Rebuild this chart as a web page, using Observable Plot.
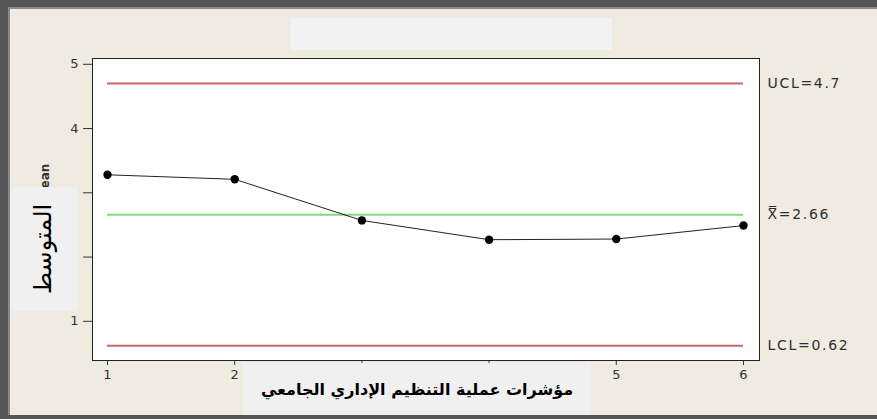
<!DOCTYPE html>
<html>
<head>
<meta charset="utf-8">
<script src="https://cdn.jsdelivr.net/npm/d3@7"></script>
<script src="https://cdn.jsdelivr.net/npm/@observablehq/plot@0.6"></script>
<style>
  html, body { margin: 0; padding: 0; background: #EFEBE1; }
  #wrap { position: relative; width: 877px; height: 419px; overflow: hidden; background: #EFEBE1; font-family: "DejaVu Sans", sans-serif; }
  #wrap svg { position: absolute; left: 0; top: 0; }
  .abs { position: absolute; }
</style>
</head>
<body>
<div id="wrap"></div>
<script>
// ---- data ----
const samples = [1, 2, 3, 4, 5, 6];
const means = [3.28, 3.21, 2.57, 2.27, 2.28, 2.49];
const limitValues = [4.7, 2.66, 0.62];
const limitLabels = ["UCL=4.7", "X\u033F=2.66", "LCL=0.62"];
const limitColors = ["#C9666F", "#7EDB7E", "#C9666F"];
const yTicks = [1, 2, 3, 4, 5];
const xTicks = [1, 2, 3, 4, 5, 6];
// labels of ticks 3 and 4 are covered by the x-label panel in the original
const xTickLabels = ["1", "2", "", "", "5", "6"];
const yTitle = "Mean";
const yLabelAr = "المتوسط";
const xLabelAr = "مؤشرات عملية التنظيم الإداري الجامعي";

const points = samples.map((s, i) => ({x: s, y: means[i]}));
const limits = limitValues.map((v, i) => ({v, label: limitLabels[i], color: limitColors[i]}));
const xDomain = [0.882, 6.126];
const yDomain = [0.39, 5.09];

const chart = Plot.plot({
  width: 877,
  height: 419,
  marginLeft: 92,
  marginRight: 118,
  marginTop: 58,
  marginBottom: 59,
  style: {background: "transparent", fontFamily: "DejaVu Sans", fontSize: "13px", color: "#333"},
  x: {domain: xDomain, ticks: xTicks},
  y: {domain: yDomain, ticks: yTicks},
  marks: [
    Plot.frame({fill: "white", stroke: "none"}),
    Plot.ruleY(limits, {y: "v", x1: samples[0], x2: samples[samples.length - 1], stroke: "color", strokeWidth: 2}),
    Plot.line(points, {x: "x", y: "y", stroke: "#222", strokeWidth: 1}),
    Plot.dot(points, {x: "x", y: "y", r: 4.2, fill: "black", stroke: "none"}),
    Plot.text(limits, {x: () => xDomain[1], y: "v", text: "label", textAnchor: "start", dx: 8, fill: "#2e2e2e", fontSize: 14, className: "limit-labels"}),
    Plot.axisY({ticks: yTicks, tickFormat: "d", tickSize: 9, tickPadding: 5, label: null, fontSize: 13, stroke: "#333"}),
    Plot.axisX({ticks: xTicks, tickFormat: (d, i) => xTickLabels[i], tickSize: 5, tickPadding: 4, label: null, fontSize: 13, stroke: "#333"}),
    Plot.frame({stroke: "#222", strokeWidth: 1})
  ]
});
d3.select(chart).selectAll(".limit-labels text").attr("letter-spacing", "1.7px");
const wrap = document.getElementById("wrap");
wrap.appendChild(chart);

function box(css, html) {
  const d = document.createElement("div");
  d.className = "abs";
  d.style.cssText = css;
  if (html) d.innerHTML = html;
  wrap.appendChild(d);
  return d;
}
// partially visible y title
box("left:45px;top:182px;width:0;height:0;", `<div style="position:absolute;left:0;top:0;transform:translate(-50%,-50%) rotate(-90deg);font-weight:bold;font-size:12px;color:#333;white-space:nowrap;">${yTitle}</div>`);
// top blank box
box("left:290px;top:18px;width:322px;height:32px;background:#F2F2F2;");
// y label box
box("left:9px;top:187px;width:69px;height:124px;background:#F0F0F0;", `<div style="position:absolute;left:34px;top:62px;transform:translate(-50%,-50%) rotate(-90deg);font-size:24px;color:#000;white-space:nowrap;direction:rtl;">${yLabelAr}</div>`);
// x label box
box("left:243px;top:363px;width:348px;height:56px;background:#F0F0F0;", `<div style="position:absolute;left:0;top:17px;width:348px;text-align:center;font-size:16px;font-weight:bold;color:#000;white-space:nowrap;direction:rtl;">${xLabelAr}</div>`);
// window borders
box("left:0;top:0;width:877px;height:7px;background:#555;");
box("left:0;top:7px;width:877px;height:2px;background:#8a8a8a;");
box("left:0;top:0;width:8px;height:419px;background:#555;");
box("left:8px;top:7px;width:2px;height:408px;background:#8a8a8a;");
box("left:0;top:415px;width:877px;height:4px;background:#555;");
</script>
</body>
</html>
